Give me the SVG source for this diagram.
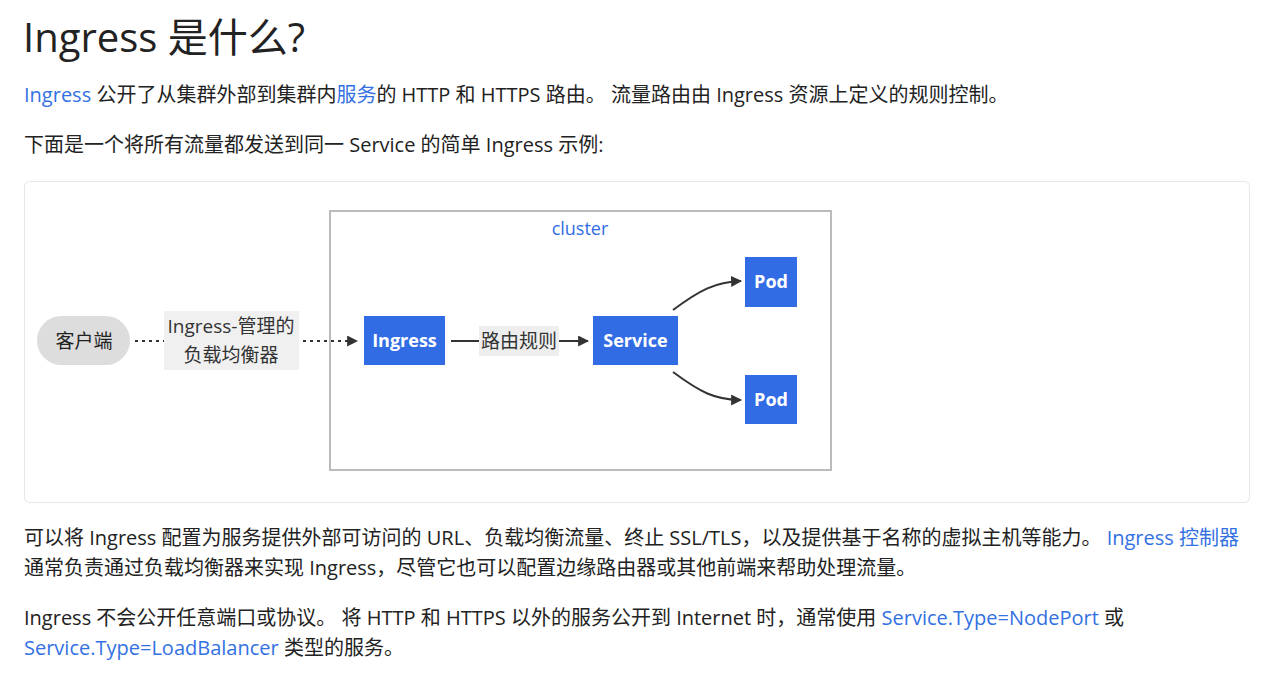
<svg xmlns="http://www.w3.org/2000/svg" width="1282" height="682" viewBox="0 0 1282 682">
<defs>
<style>
text{font-family:"Open Sans","Noto Sans CJK SC",sans-serif;fill:#222}
.body{font-size:20px}
.link{fill:#3371e3}
.node{fill:#326ce5}
.nt{fill:#fff;font-size:18px;font-weight:bold;text-anchor:middle}
.lbl{font-size:19px;text-anchor:middle;fill:#333}
.edge{stroke:#333;stroke-width:2;fill:none}
</style>
<marker id="arr" viewBox="0 0 10 10" refX="9" refY="5" markerWidth="5.5" markerHeight="5.5" orient="auto" markerUnits="strokeWidth">
<path d="M0,0 L10,5 L0,10 z" fill="#333"/>
</marker>
</defs>
<rect width="1282" height="682" fill="#fff"/>
<text x="23" y="52" font-size="40">Ingress 是什么?</text>
<text class="body" x="24" y="102"><tspan class="link">Ingress</tspan> 公开了从集群外部到集群内<tspan class="link">服务</tspan>的 HTTP 和 HTTPS 路由。 流量路由由 Ingress 资源上定义的规则控制。</text>
<text class="body" x="24" y="152">下面是一个将所有流量都发送到同一 Service 的简单 Ingress 示例:</text>

<rect x="24.5" y="181.5" width="1225" height="321" rx="5" fill="#fff" stroke="#e6e6e6"/>
<g id="cluster">
<rect x="330" y="211" width="501" height="259" fill="#fff" stroke="#bbb" stroke-width="2"/>
<text x="580" y="235" font-size="18" text-anchor="middle" style="fill:#326ce5">cluster</text>
</g>

<g id="connectors">
<path class="edge" d="M135,341 L357,341" stroke-dasharray="3,4" marker-end="url(#arr)"/>
<rect x="164" y="311" width="135" height="59" fill="#f0f0f0"/>
<text class="lbl" x="231" y="333">Ingress-管理的</text>
<text class="lbl" x="231" y="362">负载均衡器</text>
<path class="edge" d="M451,341 L588,341" marker-end="url(#arr)"/>
<rect x="479" y="326" width="80" height="30" fill="#eee"/>
<text class="lbl" x="519" y="348">路由规则</text>
<path class="edge" d="M673,310 C700,290 715,282 741,281" marker-end="url(#arr)"/>
<path class="edge" d="M673,372 C700,392 715,400 741,400" marker-end="url(#arr)"/>
</g>

<g id="client">
<rect x="37" y="316" width="93" height="49" rx="24.5" fill="#ddd"/>
<text x="84" y="348" font-size="19" text-anchor="middle">客户端</text>
</g>
<g id="ingress">
<rect class="node" x="364" y="316" width="81" height="49"/>
<text class="nt" x="404.5" y="347">Ingress</text>
</g>
<g id="service">
<rect class="node" x="593" y="316" width="85" height="49"/>
<text class="nt" x="635.5" y="347">Service</text>
</g>
<g id="pod1">
<rect class="node" x="745" y="257" width="52" height="50"/>
<text class="nt" x="771" y="288">Pod</text>
</g>
<g id="pod2">
<rect class="node" x="745" y="375" width="52" height="49"/>
<text class="nt" x="771" y="406">Pod</text>
</g>

<text class="body" x="24" y="545">可以将 Ingress 配置为服务提供外部可访问的 URL、负载均衡流量、终止 SSL/TLS，以及提供基于名称的虚拟主机等能力。 <tspan class="link">Ingress 控制器</tspan></text>
<text class="body" x="24" y="575">通常负责通过负载均衡器来实现 Ingress，尽管它也可以配置边缘路由器或其他前端来帮助处理流量。</text>
<text class="body" x="24" y="625">Ingress 不会公开任意端口或协议。 将 HTTP 和 HTTPS 以外的服务公开到 Internet 时，通常使用 <tspan class="link">Service.Type=NodePort</tspan> 或</text>
<text class="body" x="24" y="655"><tspan class="link">Service.Type=LoadBalancer</tspan> 类型的服务。</text>
</svg>
